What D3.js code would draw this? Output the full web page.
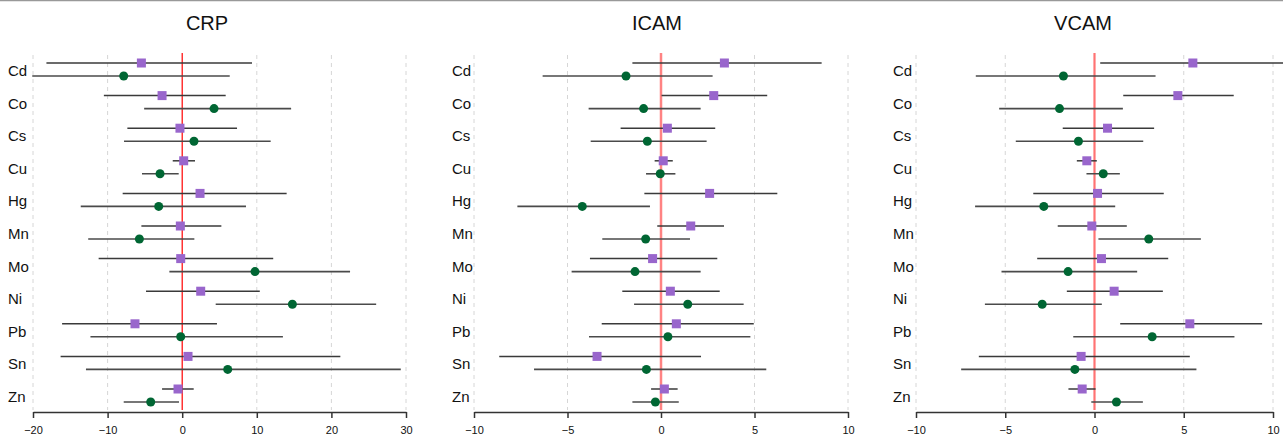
<!DOCTYPE html>
<html><head><meta charset="utf-8">
<script src="https://cdn.jsdelivr.net/npm/d3@7"></script>
<style>body{margin:0;background:#fff;}svg{display:block;font-family:"Liberation Sans",Arial,Helvetica,sans-serif;}</style>
</head><body>
<svg id="c" width="1283" height="436"></svg>
<script>
const categories = ["Cd","Co","Cs","Cu","Hg","Mn","Mo","Ni","Pb","Sn","Zn"];
const panelTitles = ["CRP","ICAM","VCAM"];

// purple squares: estimate, lower, upper
const crpPurple = [[-5.47,-18.2,9.36],[-2.7,-10.5,5.83],[-0.3,-7.35,7.35],[0.2,-1.27,1.72],[2.39,-7.98,14.0],[-0.25,-5.47,5.25],[-0.2,-11.2,12.2],[2.48,-4.85,10.4],[-6.33,-16.1,4.66],[0.78,-16.3,21.2],[-0.56,-2.7,1.54]];
const crpGreen  = [[-7.84,-20.1,6.37],[4.27,-5.1,14.6],[1.58,-7.8,11.86],[-2.97,-5.39,-0.47],[-3.15,-13.6,8.55],[-5.74,-12.6,1.63],[9.76,-1.72,22.5],[14.77,4.49,26.0],[-0.2,-12.3,13.5],[6.1,-12.9,29.3],[-4.22,-7.84,-0.43]];
const icamPurple = [[3.39,-1.53,8.59],[2.82,0.03,5.68],[0.34,-2.16,2.9],[0.12,-0.34,0.63],[2.6,-0.89,6.22],[1.59,-0.2,3.37],[-0.45,-3.8,3.01],[0.5,-2.07,3.14],[0.82,-3.17,4.96],[-3.42,-8.65,2.14],[0.18,-0.53,0.89]];
const icamGreen  = [[-1.87,-6.33,2.76],[-0.93,-3.87,2.12],[-0.73,-3.76,2.44],[-0.04,-0.8,0.77],[-4.21,-7.68,-0.59],[-0.82,-3.14,1.55],[-1.39,-4.78,2.12],[1.43,-1.44,4.42],[0.37,-3.85,4.78],[-0.78,-6.79,5.63],[-0.3,-1.53,0.95]];
const vcamPurple = [[5.51,0.32,10.9],[4.67,1.61,7.8],[0.73,-1.78,3.34],[-0.43,-0.99,0.13],[0.17,-3.43,3.88],[-0.15,-2.06,1.81],[0.39,-3.21,4.13],[1.1,-1.55,3.83],[5.34,1.44,9.39],[-0.75,-6.48,5.34],[-0.69,-1.46,0.06]];
const vcamGreen  = [[-1.74,-6.65,3.42],[-1.96,-5.34,1.59],[-0.9,-4.41,2.73],[0.49,-0.45,1.42],[-2.84,-6.69,1.16],[3.04,0.22,5.96],[-1.48,-5.21,2.39],[-2.93,-6.14,0.41],[3.23,-1.19,7.84],[-1.1,-7.47,5.71],[1.23,-0.18,2.71]];

const crpTicks = [-20,-10,0,10,20,30];
const icamTicks = [-10,-5,0,5,10];
const vcamTicks = [-10,-5,0,5,10];

const panels = [
  {title:panelTitles[0], purple:crpPurple, green:crpGreen, ticks:crpTicks, domain:[-20,30], range:[33,406], labelX:8, titleX:207, red:"#ff0000", redW:1.2, redOp:1},
  {title:panelTitles[1], purple:icamPurple, green:icamGreen, ticks:icamTicks, domain:[-10,10], range:[474,848], labelX:452, titleX:657, red:"#ff3030", redW:2.5, redOp:0.6},
  {title:panelTitles[2], purple:vcamPurple, green:vcamGreen, ticks:vcamTicks, domain:[-10,10], range:[916,1273], labelX:893, titleX:1083, red:"#ff5050", redW:2.2, redOp:0.8}
];

const svg = d3.select("#c");
svg.append("line").attr("x1",0).attr("x2",1283).attr("y1",0.5).attr("y2",0.5).attr("stroke","#999").attr("stroke-width",1.5);

const y = d3.scalePoint().domain(categories).range([69.5,395.5]);
const off = 6.5;
const plotTop = 55, plotBot = 410, axisY = 412;

panels.forEach(p => {
  const x = d3.scaleLinear().domain(p.domain).range(p.range);
  const g = svg.append("g");
  g.selectAll(".grid").data(p.ticks.filter(t=>t!==0)).enter().append("line")
    .attr("x1",d=>x(d)).attr("x2",d=>x(d)).attr("y1",plotTop).attr("y2",plotBot)
    .attr("stroke","#d6d6d6").attr("stroke-width",1).attr("stroke-dasharray","4,4");
  g.append("line").attr("x1",x(0)).attr("x2",x(0)).attr("y1",53).attr("y2",plotBot)
    .attr("stroke",p.red).attr("stroke-width",p.redW).attr("stroke-opacity",p.redOp);
  g.append("text").attr("x",p.titleX).attr("y",30).attr("text-anchor","middle")
    .attr("font-size",20).attr("fill","#111").text(p.title);
  g.selectAll(".lab").data(categories).enter().append("text")
    .attr("x",p.labelX).attr("y",d=>y(d)+6.5).attr("font-size",15).attr("fill","#111").text(d=>d);
  g.selectAll(".pl").data(p.purple).enter().append("line")
    .attr("x1",d=>x(d[1])).attr("x2",d=>x(d[2]))
    .attr("y1",(d,i)=>y(categories[i])-off).attr("y2",(d,i)=>y(categories[i])-off)
    .attr("stroke","#3a3a3a").attr("stroke-width",1.5);
  g.selectAll(".gl").data(p.green).enter().append("line")
    .attr("x1",d=>x(d[1])).attr("x2",d=>x(d[2]))
    .attr("y1",(d,i)=>y(categories[i])+off).attr("y2",(d,i)=>y(categories[i])+off)
    .attr("stroke","#4a4a4a").attr("stroke-width",1.6);
  g.selectAll(".ps").data(p.purple).enter().append("rect")
    .attr("x",d=>x(d[0])-4.5).attr("y",(d,i)=>y(categories[i])-off-4.5)
    .attr("width",9).attr("height",9).attr("fill","#9966cc");
  g.selectAll(".gc").data(p.green).enter().append("circle")
    .attr("cx",d=>x(d[0])).attr("cy",(d,i)=>y(categories[i])+off).attr("r",4.5)
    .attr("fill","#006633");
  const ax = g.append("g").attr("transform",`translate(0,${axisY})`)
    .call(d3.axisBottom(x).tickValues(p.ticks).tickSize(6).tickSizeOuter(0).tickFormat(d3.format("d")));
  ax.select(".domain").attr("stroke","#333").attr("stroke-width",1.5);
  ax.selectAll(".tick line").attr("stroke","#333").attr("stroke-width",1.5);
  ax.selectAll(".tick text").attr("font-size",11).attr("fill","#111").attr("y",14).attr("dy","0.71em")
    .attr("font-family","'Liberation Sans',Arial,sans-serif");
});
</script>
</body></html>
